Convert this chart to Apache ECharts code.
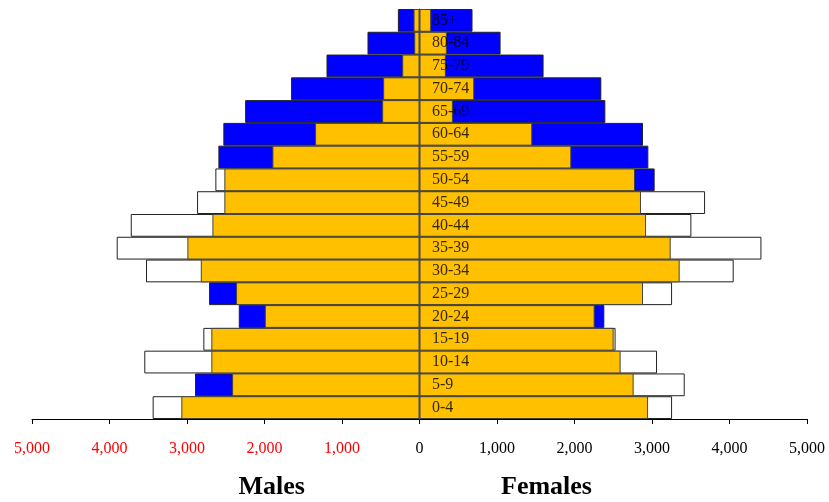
<!DOCTYPE html>
<html>
<head>
<meta charset="utf-8">
<script src="https://cdn.jsdelivr.net/npm/echarts@6/dist/echarts.min.js"></script>
<style>
html,body{margin:0;padding:0;background:#fff;}
#chart{width:829px;height:502px;}
</style>
</head>
<body>
<div id="chart"></div>
<script>
// Age groups, bottom (0-4) to top (85+)
var ageGroups = ['0-4','5-9','10-14','15-19','20-24','25-29','30-34','35-39','40-44','45-49','50-54','55-59','60-64','65-69','70-74','75-79','80-84','85+'];
// Outer (reference) population
var maleOuter   = [3443, 2896, 3551, 2789, 2332, 2715, 3529, 3907, 3726, 2870, 2634, 2595, 2531, 2250, 1657, 1200, 671, 279];
var femaleOuter = [3259, 3422, 3065, 2530, 2385, 3259, 4054, 4412, 3508, 3685, 3034, 2953, 2884, 2398, 2346, 1601, 1046, 684];
// Inner (current) population
var maleInner   = [3073, 2418, 2686, 2686, 1996, 2367, 2822, 2995, 2672, 2518, 2518, 1898, 1347, 482, 469, 223, 68, 77];
var femaleInner = [2949, 2763, 2595, 2505, 2260, 2884, 3357, 3241, 2923, 2858, 2781, 1959, 1455, 431, 706, 340, 353, 151];
// Outer groups flagged (1 = highlighted)
var maleFlag   = [0,1,0,0,1,1,0,0,0,0,0,1,1,1,1,1,1,1];
var femaleFlag = [0,0,0,0,1,0,0,0,0,0,1,1,1,1,1,1,1,1];
var tickValues = [-5000,-4000,-3000,-2000,-1000,0,1000,2000,3000,4000,5000];

var BLUE = '#0000FF', WHITE = '#FFFFFF', ORANGE = '#FFC000';
var serif = '"Liberation Serif","Times New Roman",serif';

function outerData(vals, flags, sign) {
  return vals.map(function (v, i) {
    return { value: sign * v, itemStyle: { color: flags[i] ? BLUE : WHITE } };
  });
}

var chart = echarts.init(document.getElementById('chart'));
chart.setOption({
  animation: false,
  grid: { left: 32, right: 22, top: 9, bottom: 83, containLabel: false },
  xAxis: {
    type: 'value',
    min: tickValues[0],
    max: tickValues[tickValues.length - 1],
    interval: 1000,
    splitLine: { show: false },
    axisLine: { show: true, lineStyle: { color: '#000', width: 1 } },
    axisTick: { show: true, length: 5, lineStyle: { color: '#000' } },
    axisLabel: {
      margin: 22,
      fontFamily: serif,
      fontSize: 16,
      color: function (v) { return Number(v) < 0 ? '#FF0000' : '#000'; },
      formatter: function (v) { return Math.abs(v).toLocaleString('en-US'); }
    }
  },
  yAxis: {
    type: 'category',
    data: ageGroups,
    z: 10,
    axisLine: { show: true, onZero: true, lineStyle: { color: '#4a4a4a', width: 1 } },
    axisTick: { show: false },
    axisLabel: { show: false }
  },
  series: [
    { name: 'Males outer', type: 'bar', barGap: '-100%', barCategoryGap: '0%',
      itemStyle: { borderColor: '#222', borderWidth: 1 },
      data: outerData(maleOuter, maleFlag, -1) },
    { name: 'Females outer', type: 'bar', barGap: '-100%', barCategoryGap: '0%',
      itemStyle: { borderColor: '#222', borderWidth: 1 },
      data: outerData(femaleOuter, femaleFlag, 1) },
    { name: 'Males', type: 'bar', barGap: '-100%', barCategoryGap: '0%',
      itemStyle: { color: ORANGE, borderColor: '#444', borderWidth: 1 },
      data: maleInner.map(function (v) { return -v; }) },
    { name: 'Females', type: 'bar', barGap: '-100%', barCategoryGap: '0%',
      itemStyle: { color: ORANGE, borderColor: '#444', borderWidth: 1 },
      data: femaleInner.slice() },
    { name: 'Age labels', type: 'scatter', z: 20, silent: true,
      symbolSize: 1, itemStyle: { color: 'rgba(0,0,0,0)' },
      label: { show: true, position: 'right', distance: 12,
        fontFamily: serif, fontSize: 16, color: '#000',
        formatter: function (p) { return p.value[1]; } },
      data: ageGroups.map(function (g) { return [0, g]; }) }
  ],
  graphic: [
    { type: 'text', left: 271.5 - 33, top: 474,
      style: { text: 'Males', font: 'bold 26px ' + serif, fill: '#000' } },
    { type: 'text', left: 546 - 45, top: 474,
      style: { text: 'Females', font: 'bold 26px ' + serif, fill: '#000' } }
  ]
});
</script>
</body>
</html>
